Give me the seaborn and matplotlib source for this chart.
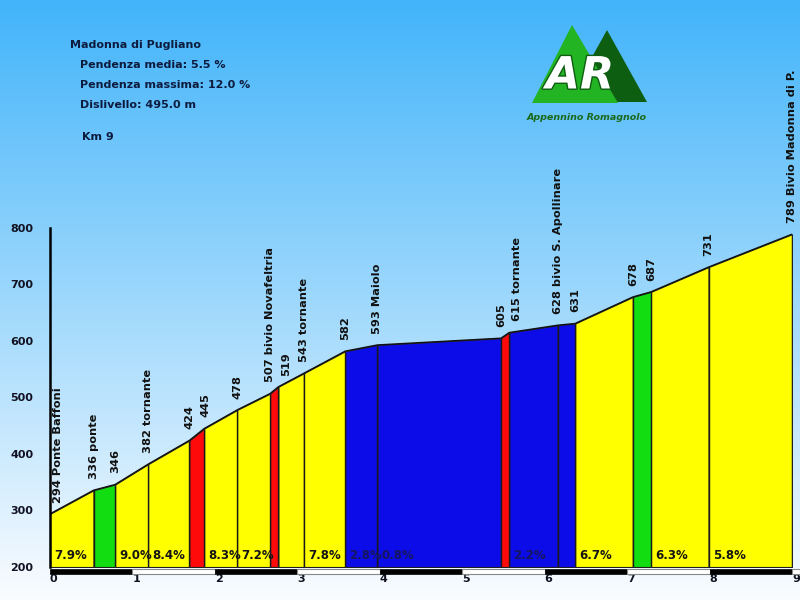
import numpy as np
import pandas as pd
import matplotlib
matplotlib.use("Agg")
import matplotlib.pyplot as plt
import seaborn as sns
from matplotlib.patches import Polygon, Rectangle
import matplotlib.patheffects as pe

# ---------------- data ----------------
km = [0.0, 0.53, 0.79, 1.19, 1.69, 1.87, 2.27, 2.67, 2.77, 3.08, 3.58, 3.97,
      5.47, 5.57, 6.16, 6.37, 7.07, 7.29, 7.99, 9.0]
elev = [294, 336, 346, 382, 424, 445, 478, 507, 519, 543, 582, 593,
        605, 615, 628, 631, 678, 687, 731, 789]
point_names = ["294 Ponte Baffoni", "336 ponte", "346", "382 tornante", "424", "445",
               "478", "507 bivio Novafeltria", "519", "543 tornante", "582", "593 Maiolo",
               "605", "615 tornante", "628 bivio S. Apollinare", "631", "678", "687",
               "731", "789 Bivio Madonna di P."]
seg_pct_labels = ["7.9%", "", "9.0%", "8.4%", "", "8.3%", "7.2%", "", "", "7.8%",
                  "2.8%", "0.8%", "", "2.2%", "", "6.7%", "", "6.3%", "5.8%"]
seg_class = ["y", "g", "y", "y", "r", "y", "y", "r", "y", "y",
             "b", "b", "r", "b", "b", "y", "g", "y", "y"]
y_ticks = [200, 300, 400, 500, 600, 700, 800]
x_ticks = [0, 1, 2, 3, 4, 5, 6, 7, 8, 9]
info_title = "Madonna di Pugliano"
info_lines = ["Pendenza media: 5.5 %", "Pendenza massima: 12.0 %", "Dislivello: 495.0 m"]
info_km = "Km 9"

class_colors = {"y": "#ffff00", "g": "#11dd11", "r": "#ff0a0a", "b": "#0c0ce8"}
class_text = {"y": "#151515", "g": "#151515", "r": "#151515", "b": "#16165e"}

W, H = 800, 600
sns.set_style("white")
plt.rcParams["font.family"] = ["DejaVu Sans"]

fig = plt.figure(figsize=(8, 6), dpi=100)

# background gradient
bg = fig.add_axes([0, 0, 1, 1], zorder=-10)
t = np.linspace(0, 1, 300)[:, None]
top = np.array([66, 180, 250]) / 255
bot = np.array([250, 252, 255]) / 255
grad = top[None, None, :] * (1 - t[:, :, None]) + bot[None, None, :] * t[:, :, None]
grad = np.repeat(grad, 2, axis=1)
bg.imshow(grad, aspect="auto", extent=[0, 1, 0, 1], origin="upper")
bg.set_axis_off()

def px(x, y):
    return x / W, 1 - y / H

ax = fig.add_axes([50 / W, 1 - 567 / H, 742 / W, 339 / H])
ax.set_facecolor("none")
ax.set_xlim(0, 9)
ax.set_ylim(200, 800)

# segments
for i in range(len(km) - 1):
    c = seg_class[i]
    ax.fill_between([km[i], km[i + 1]], [elev[i], elev[i + 1]], 200,
                    facecolor=class_colors[c], edgecolor="#202020", linewidth=0.8, zorder=2)
    if seg_pct_labels[i]:
        ax.annotate(seg_pct_labels[i], (km[i], 220), xytext=(3, 0), textcoords="offset points",
                    ha="left", va="center", fontsize=8.5, fontweight="bold",
                    color=class_text[c], zorder=5)

df = pd.DataFrame({"km": km, "elev": elev})
sns.lineplot(data=df, x="km", y="elev", color="#111111", linewidth=1.0, ax=ax, zorder=3)
ax.vlines(km[1:], 200, elev[1:], color="#1a1a1a", linewidth=1.0, zorder=3)

# point labels
label_x = []
for i, x in enumerate(km):
    if i == 0:
        lx = x + 0.1
    else:
        lx = max(x, label_x[-1] + 0.19)
    label_x.append(lx)
for lx, e, name in zip(label_x, elev, point_names):
    ax.annotate(name, (lx, e), xytext=(0, 8), textcoords="offset points",
                rotation=90, ha="center", va="bottom", fontsize=8.2, fontweight="bold",
                color="#111111", annotation_clip=False, zorder=6)

# km bar
for k in range(9):
    if k % 2 == 0:
        r = Rectangle((k, 187.5), 1, 9, facecolor="black", edgecolor="black", lw=0.5, clip_on=False)
    else:
        r = Rectangle((k, 187.5), 1, 9, facecolor="white", edgecolor="#888888", lw=0.8, clip_on=False)
    ax.add_patch(r)
ax.add_patch(Rectangle((9, 187.5), 0.1, 9, facecolor="white", edgecolor="#888888", lw=0.8, clip_on=False))

# axes styling
for s in ["top", "right", "bottom"]:
    ax.spines[s].set_visible(False)
ax.spines["left"].set_color("black")
ax.spines["left"].set_linewidth(1.8)
ax.spines["left"].set_zorder(7)
ax.set_yticks(y_ticks)
ax.set_yticklabels([str(v) for v in y_ticks], fontsize=8, fontweight="bold", color="#111122")
ax.set_xticks(x_ticks)
ax.set_xticklabels([str(v) for v in x_ticks], fontsize=8, fontweight="bold", color="#111122")
for lab in ax.get_xticklabels():
    lab.set_horizontalalignment("left")
ax.tick_params(axis="y", length=0, pad=12)
ax.tick_params(axis="x", length=0, pad=5)
ax.set_xlabel("")
ax.set_ylabel("")
ax.grid(False)

# info text
tc = "#0d1b3e"
fig.text(*px(70, 45), info_title, fontsize=8, fontweight="bold", color=tc, va="center", ha="left")
for j, line in enumerate(info_lines):
    fig.text(*px(80, 65 + j * 20), line, fontsize=8, fontweight="bold", color=tc, va="center", ha="left")
fig.text(*px(82, 137), info_km, fontsize=8, fontweight="bold", color=tc, va="center", ha="left")

# logo
lg = fig.add_axes([526 / W, 1 - 128 / H, 126 / W, 108 / H], zorder=5)
lg.set_xlim(526, 652)
lg.set_ylim(128, 20)
lg.set_axis_off()
lg.add_patch(Polygon([[607, 30], [567, 102], [647, 102]], closed=True, facecolor="#0e5e12", edgecolor="none"))
lg.add_patch(Polygon([[572, 25], [532, 103], [618, 103]], closed=True, facecolor="#22b422", edgecolor="none"))
lg.text(580, 76, "AR", fontsize=32, fontweight="bold", fontstyle="italic", color="white",
        ha="center", va="center",
        path_effects=[pe.withStroke(linewidth=2, foreground="#0e5e12")])
lg.text(587, 117, "Appennino Romagnolo", fontsize=6.8, fontweight="bold", fontstyle="italic",
        color="#1a6a1a", ha="center", va="center")

fig.savefig("out.png", dpi=100)
